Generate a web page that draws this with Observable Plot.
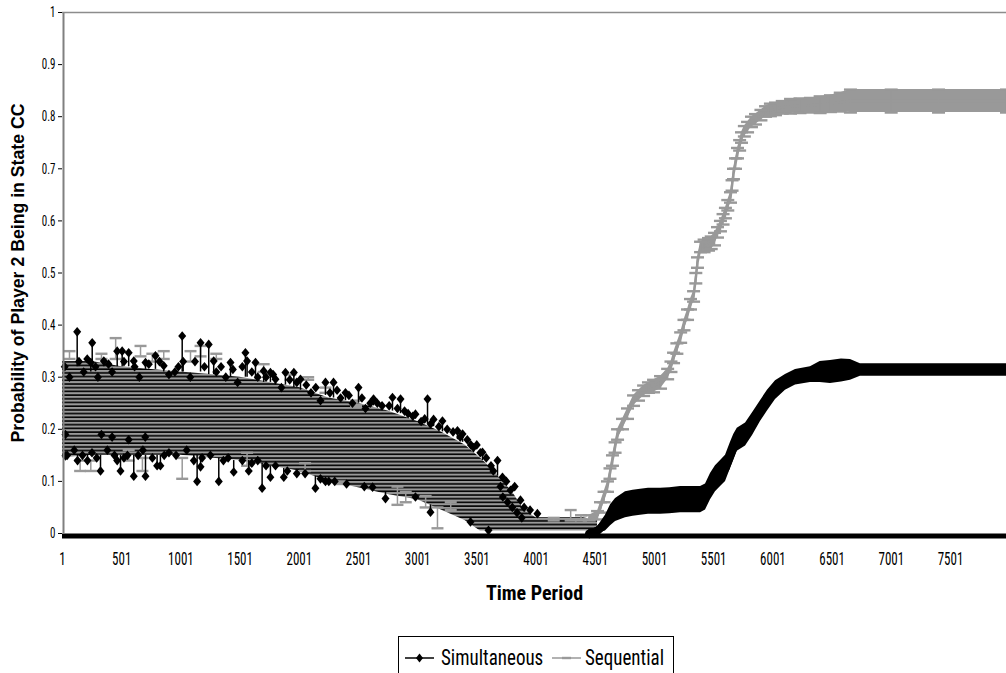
<!DOCTYPE html>
<html>
<head>
<meta charset="utf-8">
<script src="https://cdn.jsdelivr.net/npm/d3@7"></script>
<script src="https://cdn.jsdelivr.net/npm/@observablehq/plot@0.6"></script>
<style>
  html, body { margin: 0; padding: 0; background: #fff; }
  #chart { position: relative; width: 1006px; height: 673px; overflow: hidden; }
  .legend { position: absolute; left: 398px; top: 636px; width: 274px; height: 60px; border: 1px solid #000;
            font-family: "Liberation Sans Narrow", "Arial Narrow", "Roboto Condensed", sans-serif; font-size: 19px; color: #000; }
  .legend .item { position: absolute; top: 10px; height: 22px; line-height: 22px; white-space: nowrap; }
  .legend .item svg { position: absolute; top: 0; left: 0; }
  .legend .item span { position: absolute; top: 0; display: inline-block; transform: scaleY(1.2); transform-origin: 50% 50%; }
</style>
</head>
<body>
<div id="chart"></div>
<script>
// ---------------- data ----------------
const seriesNames = ["Simultaneous", "Sequential"];
const xTicks = [1, 501, 1001, 1501, 2001, 2501, 3001, 3501, 4001, 4501, 5001, 5501, 6001, 6501, 7001, 7501];
const yTicks = [0, 0.1, 0.2, 0.3, 0.4, 0.5, 0.6, 0.7, 0.8, 0.9, 1];

// dense overlapping band of both series in the early periods (lower / upper envelope)
const bandT  = [1, 250, 500, 750, 1000, 1250, 1500, 1750, 2000, 2250, 2500, 2750, 3000, 3200, 3400, 3530, 3600, 3700, 3800, 3900, 4000, 4200, 4400, 4520];
const bandHi = [0.33, 0.33, 0.32, 0.315, 0.31, 0.305, 0.30, 0.29, 0.28, 0.26, 0.25, 0.235, 0.215, 0.195, 0.17, 0.145, 0.13, 0.105, 0.08, 0.045, 0.03, 0.03, 0.03, 0.025];
const bandLo = [0.145, 0.15, 0.15, 0.15, 0.15, 0.145, 0.14, 0.13, 0.12, 0.10, 0.088, 0.075, 0.065, 0.045, 0.025, 0.005, 0.005, 0.005, 0.005, 0.005, 0.005, 0.005, 0.005, 0.005];

// Simultaneous: scattered early observations (value and end of its error bar)
const simLeftT = [125, 252, 240, 350, 463, 505, 560, 603, 702, 786, 856, 1012, 1020, 1167, 1236, 1278, 1420, 1546, 1560, 1631, 1700, 1757, 1800, 1884, 1955, 2011, 2222, 2290, 2391, 2501, 2628, 2788, 2856, 2982, 3084, 3135, 3210, 3337, 3380, 3472, 3548, 3675, 3717, 3785, 3869, 4012,
  26, 26, 128, 212, 322, 463, 491, 603, 702, 800, 828, 1110, 1138, 1167, 1321, 1447, 1574, 1687, 1757, 1870, 2137, 2222, 2620, 2729, 2982, 3109, 3447, 3599,
  60, 180, 300, 420, 650, 900, 950, 1080, 1300, 1380, 1480, 1650, 1850, 2100, 2180, 2350, 2450, 2560, 2700, 2920, 3030, 3250, 3420, 3500, 3620, 3750, 3820, 3900, 3950, 3700, 3720, 3760, 3800, 3840, 3880,
  100, 250, 380, 550, 680, 900, 1050, 1250, 1400, 1650, 1800, 2050, 2300, 2400, 2550, 330, 420, 560, 700,
  20, 140, 210, 280, 390, 520, 610, 730, 820, 980, 1120, 1200, 1340, 1440, 1520, 1600, 1720, 1780, 1920, 1980, 2060, 2140, 2260, 2320, 2420, 2530, 2600, 2660, 2760, 2830, 2890, 2960, 3060, 3110, 3180, 3300, 3360, 3450, 3530, 3580, 3640,
  40, 170, 290, 440, 520, 640, 760, 860, 960, 1180, 1360, 1520, 1600, 1720, 1900, 1980, 2180, 2250];
const simLeftY = [0.387, 0.366, 0.328, 0.331, 0.35, 0.35, 0.347, 0.331, 0.328, 0.341, 0.322, 0.379, 0.33, 0.366, 0.363, 0.331, 0.328, 0.347, 0.331, 0.328, 0.312, 0.309, 0.296, 0.309, 0.309, 0.296, 0.29, 0.29, 0.27, 0.28, 0.258, 0.261, 0.258, 0.229, 0.258, 0.219, 0.216, 0.197, 0.191, 0.165, 0.156, 0.14, 0.108, 0.083, 0.064, 0.038,
  0.19, 0.149, 0.14, 0.14, 0.12, 0.14, 0.12, 0.11, 0.11, 0.13, 0.13, 0.14, 0.10, 0.128, 0.10, 0.118, 0.12, 0.087, 0.108, 0.108, 0.087, 0.10, 0.089, 0.067, 0.07, 0.041, 0.022, 0.006,
  0.30, 0.31, 0.30, 0.31, 0.30, 0.305, 0.31, 0.30, 0.31, 0.30, 0.29, 0.30, 0.28, 0.27, 0.255, 0.26, 0.25, 0.24, 0.245, 0.23, 0.215, 0.20, 0.18, 0.17, 0.13, 0.10, 0.09, 0.05, 0.045, 0.09, 0.07, 0.06, 0.05, 0.04, 0.03,
  0.16, 0.155, 0.16, 0.15, 0.16, 0.155, 0.16, 0.15, 0.145, 0.14, 0.13, 0.115, 0.10, 0.095, 0.09, 0.19, 0.185, 0.18, 0.185,
  0.32, 0.33, 0.335, 0.32, 0.325, 0.33, 0.32, 0.325, 0.33, 0.32, 0.33, 0.32, 0.32, 0.315, 0.32, 0.31, 0.30, 0.305, 0.295, 0.29, 0.285, 0.28, 0.27, 0.275, 0.265, 0.26, 0.25, 0.25, 0.245, 0.24, 0.235, 0.225, 0.22, 0.21, 0.205, 0.195, 0.185, 0.17, 0.155, 0.145, 0.12,
  0.15, 0.15, 0.145, 0.15, 0.145, 0.15, 0.145, 0.15, 0.15, 0.145, 0.14, 0.14, 0.135, 0.13, 0.12, 0.115, 0.105, 0.10];
const simLeftBase = [0.32, 0.32, 0.31, 0.32, 0.32, 0.32, 0.32, 0.315, 0.315, 0.315, 0.31, 0.31, 0.31, 0.31, 0.305, 0.305, 0.30, 0.30, 0.30, 0.295, 0.29, 0.29, 0.285, 0.285, 0.28, 0.275, 0.265, 0.26, 0.255, 0.25, 0.245, 0.235, 0.23, 0.22, 0.21, 0.205, 0.195, 0.18, 0.175, 0.155, 0.14, 0.11, 0.10, 0.08, 0.06, 0.03,
  0.19, 0.15, 0.15, 0.15, 0.15, 0.15, 0.15, 0.15, 0.15, 0.15, 0.15, 0.15, 0.15, 0.15, 0.145, 0.14, 0.14, 0.135, 0.13, 0.125, 0.11, 0.105, 0.085, 0.08, 0.065, 0.055, 0.03, 0.01,
  0.30, 0.31, 0.30, 0.31, 0.30, 0.305, 0.31, 0.30, 0.31, 0.30, 0.29, 0.30, 0.28, 0.27, 0.255, 0.26, 0.25, 0.24, 0.245, 0.23, 0.215, 0.20, 0.18, 0.17, 0.13, 0.10, 0.09, 0.05, 0.045, 0.09, 0.07, 0.06, 0.05, 0.04, 0.03,
  0.16, 0.155, 0.16, 0.15, 0.16, 0.155, 0.16, 0.15, 0.145, 0.14, 0.13, 0.115, 0.10, 0.095, 0.09, 0.19, 0.185, 0.18, 0.185,
  0.32, 0.33, 0.335, 0.32, 0.325, 0.33, 0.32, 0.325, 0.33, 0.32, 0.33, 0.32, 0.32, 0.315, 0.32, 0.31, 0.30, 0.305, 0.295, 0.29, 0.285, 0.28, 0.27, 0.275, 0.265, 0.26, 0.25, 0.25, 0.245, 0.24, 0.235, 0.225, 0.22, 0.21, 0.205, 0.195, 0.185, 0.17, 0.155, 0.145, 0.12,
  0.15, 0.15, 0.145, 0.15, 0.145, 0.15, 0.145, 0.15, 0.15, 0.145, 0.14, 0.14, 0.135, 0.13, 0.12, 0.115, 0.105, 0.10];

// Sequential: scattered early error bars (low / high)
const seqLeftT  = [60, 150, 240, 330, 450, 560, 660, 676, 760, 856, 1012, 1082, 1167, 1300, 1560, 1700, 1926, 2050, 2076, 2222, 2348, 2480, 2830, 2900, 3068, 3168, 3280, 4150, 4293, 4380];
const seqLeftLo = [0.335, 0.12, 0.12, 0.335, 0.335, 0.14, 0.34, 0.12, 0.33, 0.335, 0.105, 0.33, 0.34, 0.335, 0.13, 0.31, 0.295, 0.12, 0.295, 0.27, 0.095, 0.245, 0.055, 0.06, 0.05, 0.01, 0.045, 0.025, 0.025, 0.025];
const seqLeftHi = [0.35, 0.14, 0.14, 0.345, 0.375, 0.16, 0.36, 0.145, 0.345, 0.35, 0.145, 0.35, 0.36, 0.345, 0.155, 0.325, 0.305, 0.135, 0.30, 0.28, 0.10, 0.255, 0.09, 0.08, 0.072, 0.05, 0.06, 0.03, 0.045, 0.035];

// Sequential: later periods (mean and error)
const seqT   = [4450, 4520, 4545, 4575, 4604, 4625, 4646, 4668, 4689, 4731, 4773, 4824, 4866, 4909, 4950, 4993, 5052, 5112, 5140, 5162, 5190, 5222, 5250, 5280, 5305, 5331, 5350, 5364, 5390, 5420, 5457, 5480, 5508, 5533, 5558, 5580, 5600, 5620, 5643, 5656, 5668, 5685, 5702, 5720, 5736, 5760, 5787, 5820, 5854, 5900, 5939, 5980, 6023, 6080, 6150, 6230, 6318, 6400, 6487, 6570, 6656, 7000, 7400, 7974];
const seqY   = [0.03, 0.035, 0.05, 0.07, 0.09, 0.115, 0.14, 0.165, 0.19, 0.21, 0.23, 0.255, 0.265, 0.274, 0.28, 0.283, 0.29, 0.306, 0.32, 0.337, 0.355, 0.376, 0.40, 0.42, 0.44, 0.455, 0.49, 0.52, 0.55, 0.552, 0.555, 0.558, 0.565, 0.578, 0.59, 0.603, 0.615, 0.63, 0.645, 0.668, 0.69, 0.71, 0.73, 0.745, 0.76, 0.772, 0.78, 0.79, 0.795, 0.803, 0.81, 0.813, 0.815, 0.818, 0.82, 0.821, 0.822, 0.823, 0.825, 0.828, 0.83, 0.83, 0.83, 0.83];
const seqErr = [0.005, 0.008, 0.01, 0.01, 0.01, 0.01, 0.01, 0.01, 0.01, 0.01, 0.01, 0.01, 0.01, 0.01, 0.01, 0.012, 0.012, 0.01, 0.01, 0.01, 0.01, 0.01, 0.01, 0.01, 0.01, 0.01, 0.01, 0.01, 0.01, 0.012, 0.012, 0.012, 0.012, 0.01, 0.01, 0.01, 0.01, 0.01, 0.01, 0.01, 0.01, 0.01, 0.01, 0.01, 0.01, 0.01, 0.01, 0.01, 0.01, 0.01, 0.01, 0.012, 0.012, 0.012, 0.014, 0.014, 0.014, 0.016, 0.016, 0.018, 0.022, 0.022, 0.022, 0.022];

// Simultaneous: later periods (mean and error)
const simT   = [4450, 4520, 4587, 4630, 4672, 4756, 4820, 4883, 4950, 5052, 5130, 5221, 5300, 5390, 5432, 5474, 5516, 5559, 5601, 5643, 5670, 5700, 5770, 5829, 5896, 5955, 6023, 6107, 6192, 6318, 6400, 6487, 6580, 6656, 6740, 6825, 7200, 7600, 7974];
const simY   = [0.0, 0.005, 0.02, 0.035, 0.045, 0.055, 0.058, 0.06, 0.062, 0.062, 0.063, 0.065, 0.065, 0.065, 0.07, 0.09, 0.105, 0.115, 0.125, 0.15, 0.165, 0.18, 0.19, 0.21, 0.235, 0.255, 0.275, 0.29, 0.30, 0.305, 0.31, 0.31, 0.313, 0.314, 0.314, 0.314, 0.314, 0.314, 0.314];
const simErr = [0.005, 0.008, 0.015, 0.02, 0.022, 0.025, 0.025, 0.025, 0.025, 0.025, 0.025, 0.025, 0.025, 0.025, 0.025, 0.025, 0.025, 0.025, 0.025, 0.025, 0.025, 0.022, 0.022, 0.022, 0.02, 0.02, 0.018, 0.015, 0.015, 0.015, 0.02, 0.022, 0.022, 0.02, 0.012, 0.012, 0.012, 0.012, 0.012];

// ---------------- build tables ----------------
const band = bandT.map((t, i) => ({t, lo: bandLo[i], hi: bandHi[i]}));
const simLeft = simLeftT.map((t, i) => ({t, y: simLeftY[i], base: simLeftBase[i]}));
const seqLeft = seqLeftT.map((t, i) => ({t, lo: seqLeftLo[i], hi: seqLeftHi[i]}));
const seq = seqT.map((t, i) => ({t, y: seqY[i], lo: seqY[i] - seqErr[i], hi: seqY[i] + seqErr[i]}));
const sim = simT.map((t, i) => ({t, y: simY[i], lo: Math.max(0, simY[i] - simErr[i]), hi: simY[i] + simErr[i]}));

const GRAY = "#999999";
const NARROW = '"Liberation Sans Narrow", "Arial Narrow", "Roboto Condensed", sans-serif';

const diamond = {draw(ctx, size) { const r = Math.sqrt(size / Math.PI); ctx.moveTo(0, -r * 1.15); ctx.lineTo(r * 0.95, 0); ctx.lineTo(0, r * 1.15); ctx.lineTo(-r * 0.95, 0); ctx.closePath(); }};
const cap = {draw(ctx, size) { const r = Math.sqrt(size / Math.PI); ctx.rect(-r, -1.2, 2 * r, 2.4); }};

const plot = Plot.plot({
  width: 1006,
  height: 628,
  marginLeft: 62,
  marginRight: 0,
  marginTop: 12,
  marginBottom: 95,
  x: {domain: [1, 7974]},
  y: {domain: [0, 1]},
  style: {background: "white", overflow: "visible", fontFamily: NARROW},
  marks: [
    // early band of both series
    Plot.areaY(band, {x: "t", y1: "lo", y2: "hi", fill: "url(#stripes)"}),
    // Sequential early error bars
    Plot.ruleX(seqLeft, {x: "t", y1: "lo", y2: "hi", stroke: GRAY, strokeWidth: 1.5}),
    Plot.dot(seqLeft, {x: "t", y: "lo", symbol: cap, r: 6, fill: GRAY, stroke: "none"}),
    Plot.dot(seqLeft, {x: "t", y: "hi", symbol: cap, r: 6, fill: GRAY, stroke: "none"}),
    // Simultaneous early points
    Plot.ruleX(simLeft, {x: "t", y1: "y", y2: "base", stroke: "black", strokeWidth: 1.5}),
    Plot.dot(simLeft, {x: "t", y: "y", symbol: diamond, r: 4.2, fill: "black", stroke: "none"}),
    // Sequential later periods
    Plot.areaY(seq, {x: "t", y1: "lo", y2: "hi", fill: GRAY}),
    Plot.line(seq, {x: "t", y: "y", stroke: GRAY, strokeWidth: 2.5}),
    Plot.ruleX(seq, {x: "t", y1: "lo", y2: "hi", stroke: GRAY, strokeWidth: 1.5}),
    Plot.dot(seq, {x: "t", y: "lo", symbol: cap, r: 6.5, fill: GRAY, stroke: "none"}),
    Plot.dot(seq, {x: "t", y: "hi", symbol: cap, r: 6.5, fill: GRAY, stroke: "none"}),
    // Simultaneous later periods
    Plot.areaY(sim, {x: "t", y1: "lo", y2: "hi", fill: "black"}),
    Plot.line(sim, {x: "t", y: "y", stroke: "black", strokeWidth: 8}),
    Plot.dot(sim, {x: "t", y: "y", symbol: diamond, r: 4.5, fill: "black", stroke: "none"}),
    // frame pieces
    Plot.ruleY([0], {stroke: "black", strokeWidth: 5, dy: 2.5}),
    Plot.ruleX([1], {stroke: "#808080", strokeWidth: 2, dx: 1}),
    Plot.ruleY([1], {stroke: "#8c8c8c", strokeWidth: 1.5}),
    // axes
    Plot.axisY({ticks: yTicks, tickSize: 4, tickPadding: 3, tickFormat: d => String(d), label: null, fontSize: 11, fontFamily: NARROW}),
    Plot.axisX({ticks: xTicks, tickSize: 0, tickPadding: 19, tickFormat: d => String(d), label: null, fontSize: 13, fontFamily: NARROW}),
    Plot.text(["Time Period"], {frameAnchor: "bottom", dy: 60, fontWeight: "bold", fontSize: 20, fontFamily: NARROW, ariaLabel: "x-title", lineAnchor: "middle", textAnchor: "middle"}),
    Plot.text(["Probability of Player 2 Being in State CC"], {frameAnchor: "left", dx: -44, rotate: -90, fontWeight: "bold", fontSize: 17.7, fontFamily: '"Liberation Sans", Arial, sans-serif', ariaLabel: "y-title", lineAnchor: "middle", textAnchor: "middle"})
  ]
});

// stripe pattern used by the early band
const defs = d3.select(plot).insert("defs", ":first-child");
const pat = defs.append("pattern").attr("id", "stripes").attr("patternUnits", "userSpaceOnUse").attr("width", 10).attr("height", 3.7);
pat.append("rect").attr("width", 10).attr("height", 3.7).attr("fill", "black");
pat.append("rect").attr("width", 10).attr("height", 2.1).attr("fill", GRAY);

// vertical stretch of the text like the original picture
function stretch(label, sx, sy) {
  d3.select(plot).selectAll(`g[aria-label="${label}"] text`).each(function () {
    const t = d3.select(this);
    let tr = t.attr("transform");
    if (!tr) {
      const x = parseFloat(t.attr("x")) || 0, y = parseFloat(t.attr("y")) || 0;
      t.attr("x", null).attr("y", null);
      tr = `translate(${x},${y})`;
    }
    t.attr("transform", `${tr} scale(${sx},${sy})`);
  });
}
stretch("x-axis tick label", 1, 1.35);
stretch("y-axis tick label", 1, 1.35);
stretch("x-title", 1, 1.05);
stretch("y-title", 1.33, 1);

const chart = document.getElementById("chart");
chart.appendChild(plot);

// legend below the plot
const legend = document.createElement("div");
legend.className = "legend";
legend.innerHTML = `
  <div class="item" style="left:6px;width:140px">
    <svg width="30" height="22"><line x1="0" y1="11" x2="29" y2="11" stroke="black" stroke-width="1.5"/><path d="M14.5,6.5L18,11L14.5,15.5L11,11Z" fill="black"/></svg>
    <span style="left:36px">${seriesNames[0]}</span>
  </div>
  <div class="item" style="left:153px;width:120px">
    <svg width="30" height="22"><line x1="0" y1="11" x2="29" y2="11" stroke="${GRAY}" stroke-width="1.5"/><rect x="10" y="9.8" width="9" height="2.4" fill="${GRAY}"/></svg>
    <span style="left:33px">${seriesNames[1]}</span>
  </div>`;
chart.appendChild(legend);
</script>
</body>
</html>
